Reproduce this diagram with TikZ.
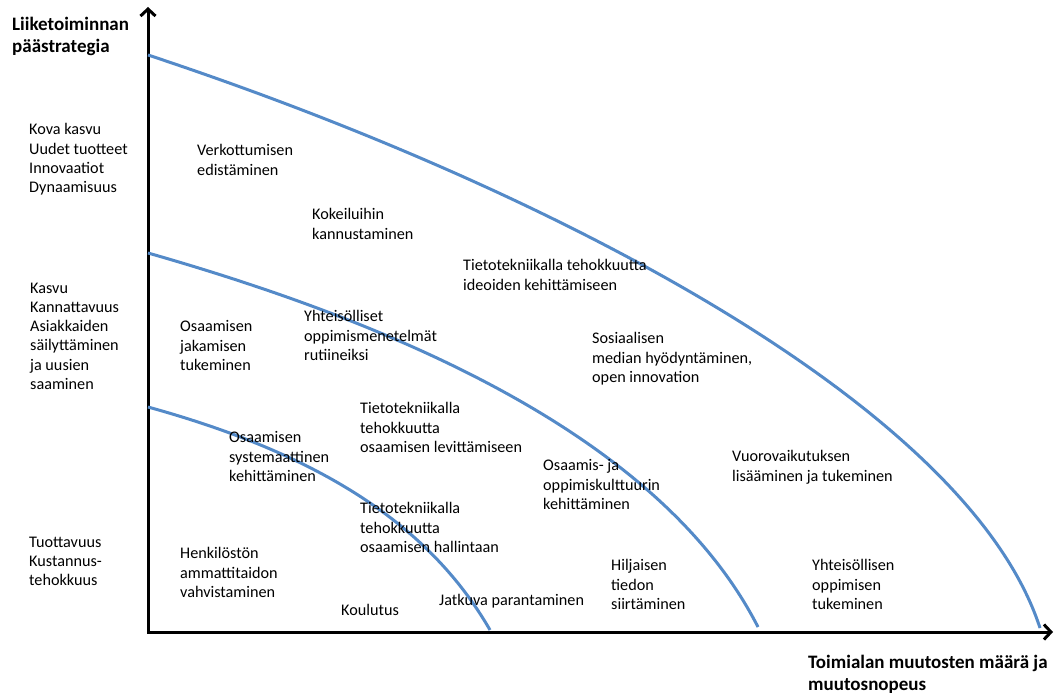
\documentclass[tikz,border=0pt]{standalone}
\usepackage{fontspec}
\setmainfont{Carlito}
\usetikzlibrary{arrows.meta}
\definecolor{curveblue}{RGB}{84,138,200}
\tikzset{
  lbl/.style={anchor=north west, inner sep=0pt, align=left, yshift=13.5pt,
    font=\fontsize{16.2}{19.3}\selectfont, execute at begin node=\strut},
  ttl/.style={anchor=north west, inner sep=0pt, align=left, yshift=15.4pt,
    font=\bfseries\fontsize{19}{22}\selectfont, execute at begin node=\strut},
  axisline/.style={line width=3pt, line join=miter,
    {Straight Barb[length=7pt,width=15pt]}-{Straight Barb[length=7pt,width=15pt]}},
  band/.style={line width=3pt, curveblue},
}
\begin{document}
\begin{tikzpicture}[x=1pt, y=-1pt]
\useasboundingbox (0,0) rectangle (1062,695);

% axes
\coordinate (O) at (148,632);
\coordinate (ytip) at (148,7);
\coordinate (xtip) at (1053,632);
\draw[axisline] (ytip) -- (O) -- (xtip);

% strategy boundaries
\draw[band] (148,55) .. controls (532,182) and (966,400) .. (1040,628);
\draw[band] (148,253) .. controls (393,323) and (660,435) .. (758,627);
\draw[band] (148,407) .. controls (307,451) and (425,517) .. (490,630);

% axis titles
\node[ttl] (ylab) at (12,32.5) {Liiketoiminnan\\päästrategia};
\node[ttl] (xlab) at (808,670) {Toimialan muutosten määrä ja\\muutosnopeus};

% strategy levels
\node[lbl] (kova) at (29,137) {Kova kasvu\\Uudet tuotteet\\Innovaatiot\\Dynaamisuus};
\node[lbl] (kasvu) at (30,296) {Kasvu\\Kannattavuus\\Asiakkaiden\\säilyttäminen\\ja uusien\\saaminen};
\node[lbl] (tuott) at (29,550) {Tuottavuus\\Kustannus-\\tehokkuus};

% actions
\node[lbl] (verk) at (197,158) {Verkottumisen\\edistäminen};
\node[lbl] (kokeil) at (312,222) {Kokeiluihin\\kannustaminen};
\node[lbl] (ideo) at (463,273) {Tietotekniikalla tehokkuutta\\ideoiden kehittämiseen};
\node[lbl] (jakam) at (180,334) {Osaamisen\\jakamisen\\tukeminen};
\node[lbl] (yhteis) at (304,324) {Yhteisölliset\\oppimismenetelmät\\rutiineiksi};
\node[lbl] (some) at (592,346) {Sosiaalisen\\median hyödyntäminen,\\open innovation};
\node[lbl] (levit) at (360,416) {Tietotekniikalla\\tehokkuutta\\osaamisen levittämiseen};
\node[lbl] (systm) at (229,445) {Osaamisen\\systemaattinen\\kehittäminen};
\node[lbl] (kultt) at (543,473) {Osaamis- ja\\oppimiskulttuurin\\kehittäminen};
\node[lbl] (vuoro) at (732,464) {Vuorovaikutuksen\\lisääminen ja tukeminen};
\node[lbl] (hallin) at (360,516) {Tietotekniikalla\\tehokkuutta\\osaamisen hallintaan};
\node[lbl] (henk) at (180,561) {Henkilöstön\\ammattitaidon\\vahvistaminen};
\node[lbl] (hilj) at (611,573) {Hiljaisen\\tiedon\\siirtäminen};
\node[lbl] (yhtop) at (812,573) {Yhteisöllisen\\oppimisen\\tukeminen};
\node[lbl] (koul) at (341,615) {Koulutus};
\node[lbl] (jatk) at (439,605) {Jatkuva parantaminen};
\end{tikzpicture}
\end{document}
